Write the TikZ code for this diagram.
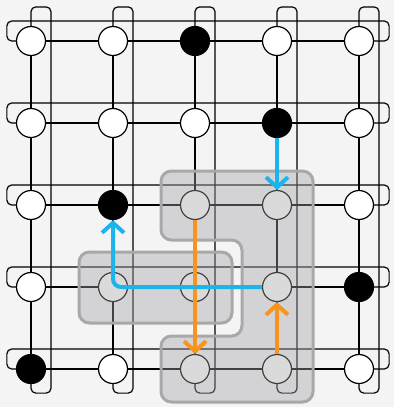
\documentclass[tikz,border=0pt]{standalone}
\usepackage{tikz}
\usetikzlibrary{arrows.meta,calc}

\definecolor{qblue}{HTML}{1CB4EC}
\definecolor{qorange}{HTML}{F7941D}
\definecolor{patchfill}{HTML}{A3A3A7}
\definecolor{patchline}{HTML}{A8A8AA}
\definecolor{bggray}{HTML}{F4F4F4}

\begin{document}
\begin{tikzpicture}[x=0.25mm, y=-0.25mm, >={Straight Barb[length=2.5mm,width=5.5mm]},
  site/.style={circle,draw,fill=white,line width=0.3mm,minimum size=7.25mm,inner sep=0pt},
  syn/.style={site,fill=black},
  wire/.style={line width=0.3mm},
  patch/.style={fill=patchfill,fill opacity=0.4,draw=patchline,line width=0.75mm,rounded corners=2.6mm},
  flow/.style={->,line width=1mm}]
  \useasboundingbox[fill=bggray] (0,0) rectangle (394,407);
  % Lattice sites (black = flipped)
  \foreach \r/\c/\s in {1/1/site,1/2/site,1/3/syn,1/4/site,1/5/site,
                        2/1/site,2/2/site,2/3/site,2/4/syn,2/5/site,
                        3/1/site,3/2/syn,3/3/site,3/4/site,3/5/site,
                        4/1/site,4/2/site,4/3/site,4/4/site,4/5/syn,
                        5/1/syn,5/2/site,5/3/site,5/4/site,5/5/site}
    \node[\s] (v\r\c) at ({31+82*(\c-1)},{41+82*(\r-1)}) {};
  % Rows, columns and periodic wrap-arounds
  \foreach \i in {1,...,5} {
    \draw[wire] (v\i1) -- (v\i2) -- (v\i3) -- (v\i4) -- (v\i5);
    \draw[wire] (v1\i) -- (v2\i) -- (v3\i) -- (v4\i) -- (v5\i);
    \draw[wire,rounded corners=1.2mm] (v\i1.west) -| ++(-9,-20) -| ($(v\i5.east)+(15,0)$) -- (v\i5.east);
    \draw[wire,rounded corners=1.2mm] (v1\i.north) |- ++(20,-19) |- ($(v5\i.south)+(0,9)$) -- (v5\i.south);
  }
  % Shaded patches
  \draw[patch] (237,171) -- (313,171) -- (313,402) -- (161,402) -- (161,336) -- (242,336)
    -- (242,240) -- (161,240) -- (161,171) -- cycle;
  \draw[patch] (79,252) rectangle (232,323);
  % Moves
  \draw[flow,qorange] (v33) -- (v53);
  \draw[flow,qorange] (v54) -- (v44);
  \draw[flow,qblue] (v24) -- (v34);
  \draw[flow,qblue,rounded corners=2mm] (v44) -| (v32);
\end{tikzpicture}
\end{document}
